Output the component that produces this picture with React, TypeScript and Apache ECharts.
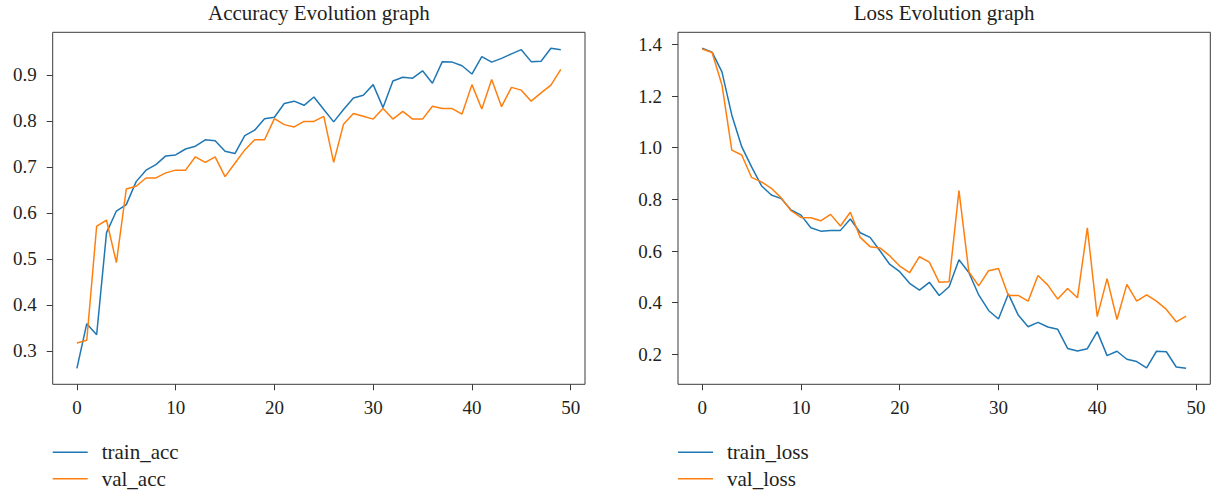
import React, { useEffect, useRef } from "react";
import * as echarts from "echarts";

const epochs: number[] = Array.from({ length: 50 }, (_, i) => i);

const trainAcc: number[] = [
  0.262, 0.359, 0.335, 0.557, 0.604, 0.618, 0.668, 0.693, 0.705, 0.724,
  0.726, 0.739, 0.745, 0.759, 0.757, 0.734, 0.729, 0.768, 0.780, 0.805,
  0.808, 0.838, 0.843, 0.834, 0.852, 0.825, 0.798, 0.825, 0.850, 0.856,
  0.879, 0.829, 0.887, 0.895, 0.893, 0.909, 0.882, 0.929, 0.928, 0.920,
  0.902, 0.940, 0.928, 0.936, 0.946, 0.955, 0.929, 0.930, 0.958, 0.955,
];

const valAcc: number[] = [
  0.317, 0.323, 0.571, 0.584, 0.492, 0.652, 0.658, 0.676, 0.676, 0.687,
  0.693, 0.693, 0.722, 0.710, 0.722, 0.679, 0.708, 0.737, 0.759, 0.759,
  0.805, 0.792, 0.787, 0.799, 0.799, 0.810, 0.710, 0.793, 0.816, 0.810,
  0.804, 0.827, 0.804, 0.821, 0.804, 0.804, 0.832, 0.827, 0.827, 0.815,
  0.879, 0.826, 0.890, 0.831, 0.873, 0.867, 0.843, 0.861, 0.878, 0.912,
];

const trainLoss: number[] = [
  1.385, 1.370, 1.294, 1.126, 1.004, 0.926, 0.853, 0.817, 0.803, 0.759,
  0.739, 0.690, 0.677, 0.680, 0.680, 0.724, 0.671, 0.653, 0.601, 0.548,
  0.520, 0.475, 0.449, 0.479, 0.428, 0.462, 0.566, 0.517, 0.430, 0.370,
  0.337, 0.434, 0.352, 0.307, 0.324, 0.306, 0.297, 0.223, 0.213, 0.222,
  0.288, 0.195, 0.212, 0.181, 0.172, 0.148, 0.212, 0.210, 0.151, 0.146,
];

const valLoss: number[] = [
  1.382, 1.369, 1.243, 0.991, 0.972, 0.885, 0.868, 0.843, 0.806, 0.756,
  0.730, 0.729, 0.717, 0.742, 0.697, 0.750, 0.653, 0.617, 0.612, 0.581,
  0.542, 0.516, 0.578, 0.557, 0.479, 0.481, 0.834, 0.520, 0.465, 0.524,
  0.532, 0.428, 0.428, 0.406, 0.505, 0.468, 0.414, 0.455, 0.419, 0.690,
  0.346, 0.493, 0.335, 0.471, 0.406, 0.430, 0.406, 0.374, 0.326, 0.348,
];

const xTicks: number[] = [0, 10, 20, 30, 40, 50];
const accTicks: number[] = [0.3, 0.4, 0.5, 0.6, 0.7, 0.8, 0.9];
const lossTicks: number[] = [0.2, 0.4, 0.6, 0.8, 1.0, 1.2, 1.4];

const titles: string[] = ["Accuracy Evolution graph", "Loss Evolution graph"];
const accNames: string[] = ["train_acc", "val_acc"];
const lossNames: string[] = ["train_loss", "val_loss"];

const BLUE = "#1f77b4";
const ORANGE = "#ff7f0e";
const FONT = "Liberation Serif";
const TEXT = "#231f20";
const AXIS = "#3a3a3a";

function extent(arrs: number[][]): [number, number] {
  const all = arrs.flat();
  const lo = Math.min(...all);
  const hi = Math.max(...all);
  const m = (hi - lo) * 0.05;
  return [lo - m, hi + m];
}

export default function App() {
  const ref = useRef<HTMLDivElement>(null);

  useEffect(() => {
    if (!ref.current) return;
    const chart = echarts.init(ref.current, null, { renderer: "svg" });

    const span = epochs[epochs.length - 1] - epochs[0];
    const xMin = epochs[0] - span * 0.05;
    const xMax = epochs[epochs.length - 1] + span * 0.05;
    const [accMin, accMax] = extent([trainAcc, valAcc]);
    const [lossMin, lossMax] = extent([trainLoss, valLoss]);

    const gridW = 532.3;
    const gridH = 352;
    const grids = [
      { left: 52.7, top: 32.3, width: gridW, height: gridH },
      { left: 678, top: 32.3, width: gridW, height: gridH },
    ];

    const labelStyle = { fontFamily: FONT, fontSize: 19, color: TEXT };

    const xAxisCfg = (gridIndex: number) => ({
      type: "value",
      gridIndex,
      min: xMin,
      max: xMax,
      axisLine: { show: false, onZero: false },
      splitLine: { show: false },
      axisTick: {
        show: true,
        length: 6,
        lineStyle: { color: AXIS, width: 1 },
        customValues: xTicks,
      },
      axisLabel: {
        ...labelStyle,
        margin: 14,
        customValues: xTicks,
        formatter: (v: number) => String(Math.round(v)),
      },
    });

    const yAxisCfg = (gridIndex: number, min: number, max: number, ticks: number[]) => ({
      type: "value",
      gridIndex,
      min,
      max,
      axisLine: { show: false, onZero: false },
      splitLine: { show: false },
      axisTick: {
        show: true,
        length: 6,
        lineStyle: { color: AXIS, width: 1 },
        customValues: ticks,
      },
      axisLabel: {
        ...labelStyle,
        margin: 16,
        customValues: ticks,
        formatter: (v: number) => v.toFixed(1),
      },
    });

    const lineSeries = (name: string, data: number[], color: string, idx: number) => ({
      type: "line",
      name,
      xAxisIndex: idx,
      yAxisIndex: idx,
      data: epochs.map((e, i) => [e, data[i]]),
      symbol: "none",
      showSymbol: false,
      lineStyle: { color, width: 1.5 },
      itemStyle: { color },
      emphasis: { disabled: true },
    });

    const legendCfg = (left: number, top: number, name: string) => ({
      left,
      top,
      padding: 0,
      orient: "horizontal",
      icon: "rect",
      itemWidth: 35,
      itemHeight: 1.5,
      data: [name],
      selectedMode: false,
      textStyle: {
        fontFamily: FONT,
        fontSize: 21,
        color: TEXT,
        lineHeight: 21,
        padding: [0, 0, 0, 9],
      },
    });

    const legendTop1 = 441.8;
    const legendStep = 26.4;

    chart.setOption({
      animation: false,
      backgroundColor: "#ffffff",
      textStyle: { fontFamily: FONT },
      grid: grids.map((g) => ({
        ...g,
        show: true,
        borderColor: AXIS,
        borderWidth: 1,
        backgroundColor: "transparent",
      })),
      xAxis: [xAxisCfg(0), xAxisCfg(1)],
      yAxis: [
        yAxisCfg(0, accMin, accMax, accTicks),
        yAxisCfg(1, lossMin, lossMax, lossTicks),
      ],
      legend: [
        legendCfg(grids[0].left, legendTop1, accNames[0]),
        legendCfg(grids[0].left, legendTop1 + legendStep, accNames[1]),
        legendCfg(grids[1].left, legendTop1, lossNames[0]),
        legendCfg(grids[1].left, legendTop1 + legendStep, lossNames[1]),
      ],
      series: [
        lineSeries(accNames[0], trainAcc, BLUE, 0),
        lineSeries(accNames[1], valAcc, ORANGE, 0),
        lineSeries(lossNames[0], trainLoss, BLUE, 1),
        lineSeries(lossNames[1], valLoss, ORANGE, 1),
      ],
      graphic: titles.map((t, i) => ({
        type: "text",
        x: grids[i].left + gridW / 2,
        y: 2,
        style: {
          text: t,
          fontFamily: FONT,
          fontSize: 21,
          fill: TEXT,
          textAlign: "center",
          textVerticalAlign: "top",
        },
      })),
    });

    return () => chart.dispose();
  }, []);

  return (
    <div
      ref={ref}
      style={{ position: "fixed", left: 0, top: 0, width: 1212, height: 490, background: "#fff" }}
    />
  );
}
